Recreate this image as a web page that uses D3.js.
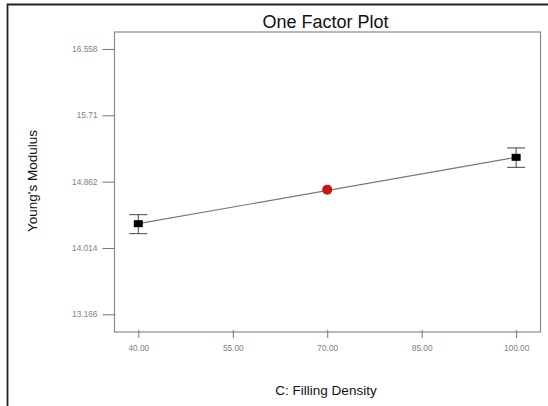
<!DOCTYPE html>
<html>
<head>
<meta charset="utf-8">
<script src="https://cdn.jsdelivr.net/npm/d3@7"></script>
<style>
  body { margin: 0; background: #fff; }
  svg { display: block; font-family: Arial, "Liberation Sans", sans-serif; }
</style>
</head>
<body>
<svg width="548" height="406"></svg>
<script>
// factor levels and predicted response
var levels = [40, 100];
var means = [14.325, 15.173];
var lower = [14.197, 15.045];
var upper = [14.44, 15.293];
var centerLevel = 70;
var centerMean = 14.76;
var xTicks = [40, 55, 70, 85, 100];
var yTicks = [13.166, 14.014, 14.862, 15.71, 16.558];
var yTickLabels = ["13.166", "14.014", "14.862", "15.71", "16.558"];

var svg = d3.select("svg");

var plot = { left: 114.5, top: 32, right: 540.5, bottom: 332 };

var x = d3.scaleLinear().domain([36.22, 103.87]).range([plot.left, plot.right]);
var y = d3.scaleLinear().domain([12.94, 16.775]).range([plot.bottom, plot.top]);

// outer frame (only top and left visible)
svg.append("path")
  .attr("d", "M7.5,406 V4.5 H548")
  .attr("fill", "none")
  .attr("stroke", "#222")
  .attr("stroke-width", 1.8);

// plot box
svg.append("rect")
  .attr("x", plot.left)
  .attr("y", plot.top)
  .attr("width", plot.right - plot.left)
  .attr("height", plot.bottom - plot.top)
  .attr("fill", "none")
  .attr("stroke", "#8a8a8a")
  .attr("stroke-width", 1.2);

// y axis
var yAxis = d3.axisLeft(y)
  .tickValues(yTicks)
  .tickSize(12)
  .tickPadding(5)
  .tickFormat(function (d, i) { return yTickLabels[i]; });

var gy = svg.append("g")
  .attr("transform", "translate(" + plot.left + ",0)")
  .call(yAxis);
gy.select(".domain").remove();
gy.selectAll("line").attr("stroke", "#777");
gy.selectAll("text")
  .attr("fill", "#808080")
  .style("font-size", "8.3px");

// x axis
var xAxis = d3.axisBottom(x)
  .tickValues(xTicks)
  .tickSize(8)
  .tickPadding(7)
  .tickFormat(d3.format(".2f"));

var gx = svg.append("g")
  .attr("transform", "translate(0," + (plot.bottom - 2) + ")")
  .call(xAxis);
gx.select(".domain").remove();
gx.selectAll("line").attr("stroke", "#777");
gx.selectAll("text")
  .attr("fill", "#808080")
  .style("font-size", "8.3px");

// prediction line
svg.append("line")
  .attr("x1", x(levels[0]))
  .attr("y1", y(means[0]))
  .attr("x2", x(levels[1]))
  .attr("y2", y(means[1]))
  .attr("stroke", "#777")
  .attr("stroke-width", 1.2);

// error bars
var bars = svg.append("g")
  .selectAll("g")
  .data(levels)
  .enter()
  .append("g");

bars.append("line")
  .attr("x1", function (d) { return x(d); })
  .attr("x2", function (d) { return x(d); })
  .attr("y1", function (d, i) { return y(upper[i]); })
  .attr("y2", function (d, i) { return y(lower[i]); })
  .attr("stroke", "#444");

bars.append("line")
  .attr("x1", function (d) { return x(d) - 9; })
  .attr("x2", function (d) { return x(d) + 9; })
  .attr("y1", function (d, i) { return y(upper[i]); })
  .attr("y2", function (d, i) { return y(upper[i]); })
  .attr("stroke", "#444");

bars.append("line")
  .attr("x1", function (d) { return x(d) - 9; })
  .attr("x2", function (d) { return x(d) + 9; })
  .attr("y1", function (d, i) { return y(lower[i]); })
  .attr("y2", function (d, i) { return y(lower[i]); })
  .attr("stroke", "#444");

bars.append("rect")
  .attr("x", function (d) { return x(d) - 4.5; })
  .attr("y", function (d, i) { return y(means[i]) - 3.5; })
  .attr("width", 9)
  .attr("height", 7)
  .attr("fill", "#000");

// center point
svg.append("circle")
  .attr("cx", x(centerLevel))
  .attr("cy", y(centerMean))
  .attr("r", 5)
  .attr("fill", "#cc1414");

// titles
svg.append("text")
  .attr("x", 325.5)
  .attr("y", 27.5)
  .attr("text-anchor", "middle")
  .style("font-size", "18px")
  .attr("fill", "#111")
  .text("One Factor Plot");

svg.append("text")
  .attr("x", 326)
  .attr("y", 394.5)
  .attr("text-anchor", "middle")
  .style("font-size", "13.5px")
  .attr("fill", "#111")
  .text("C: Filling Density");

svg.append("text")
  .attr("transform", "translate(37,181) rotate(-90)")
  .attr("text-anchor", "middle")
  .style("font-size", "13.5px")
  .attr("fill", "#111")
  .text("Young's Modulus");
</script>
</body>
</html>
